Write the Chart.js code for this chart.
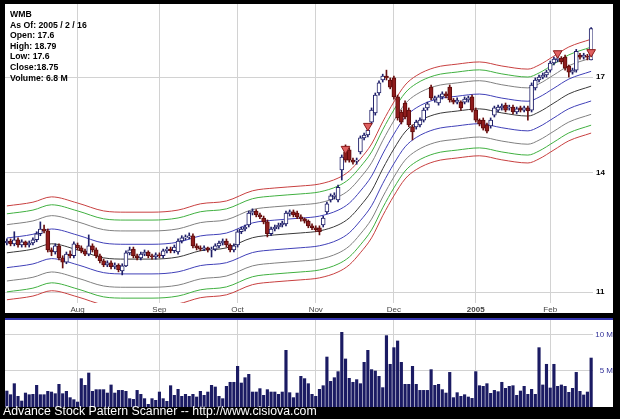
<!DOCTYPE html>
<html>
<head>
<meta charset="utf-8">
<script src="https://cdn.jsdelivr.net/npm/chart.js@4/dist/chart.umd.min.js"></script>
<style>
  html, body { margin: 0; padding: 0; background: #000; width: 620px; height: 419px; overflow: hidden; }
  #priceBox { position: absolute; left: 5px; top: 4px; width: 608px; height: 309px; background: #fff; }
  #volBox { position: absolute; left: 5px; top: 318px; width: 608px; height: 89px; background: #fff; border-top: 2px solid #3535b0; box-sizing: border-box; }
  #info { position: absolute; left: 10px; top: 9px; font: bold 8.7px/10.6px "Liberation Sans", Arial, sans-serif; color: #000; }
  #foot { position: absolute; left: 3px; top: 405px; font: 12.3px/13px "Liberation Sans", Arial, sans-serif; color: #fff; white-space: nowrap; }
  canvas { display: block; }
</style>
</head>
<body>
<div id="priceBox"><canvas id="price" width="608" height="309"></canvas></div>
<div id="volBox"><canvas id="vol" width="608" height="87"></canvas></div>
<div id="info">WMB<br>As Of: 2005 / 2 / 16<br>Open: 17.6<br>High: 18.79<br>Low: 17.6<br>Close:18.75<br>Volume: 6.8 M</div>
<div id="foot">Advance Stock Pattern Scanner -- http://www.cisiova.com</div>
<script>
// trading days 2004-07-06 .. 2005-02-16
const holidays = ['2004-09-06', '2004-11-25', '2004-12-24', '2005-01-17'];
const days = [];
for (let t = Date.UTC(2004, 6, 6); t <= Date.UTC(2005, 1, 16); t += 864e5) {
  const d = new Date(t);
  const s = d.toISOString().slice(0, 10);
  if (d.getUTCDay() % 6 !== 0 && !holidays.includes(s)) days.push(s);
}
const monthNames = ['Aug', 'Sep', 'Oct', 'Nov', 'Dec', '2005', 'Feb'];
const priceTicks = [11, 14, 17];
const volTicks = [5, 10];

const opens = [12.15,12.20,12.13,12.23,12.10,12.18,12.10,12.15,12.23,12.38,
  12.50,12.45,11.98,11.93,12.08,11.79,11.69,11.88,11.84,12.10,
  12.03,11.96,11.88,12.08,11.98,11.84,11.72,11.62,11.67,11.58,
  11.62,11.48,11.60,11.91,12.00,11.84,11.79,11.88,11.93,11.84,
  11.81,11.86,11.84,11.96,12.00,11.96,11.93,12.20,12.28,12.30,
  12.33,12.08,12.03,12.00,12.03,11.98,12.00,12.08,12.15,12.20,
  12.10,11.98,12.10,12.43,12.50,12.60,12.91,12.96,12.86,12.78,
  12.68,12.38,12.50,12.55,12.60,12.63,12.89,12.94,12.91,12.81,
  12.76,12.70,12.58,12.53,12.53,12.60,12.94,13.26,13.34,13.26,
  14.09,14.61,14.67,14.37,14.34,14.61,15.03,15.12,15.52,15.81,
  16.46,16.90,17.03,16.90,16.97,16.33,15.84,16.13,15.90,15.37,
  15.37,15.43,15.58,15.97,16.66,16.23,16.13,16.33,16.43,16.66,
  16.23,16.16,16.16,16.16,16.23,16.33,15.90,15.58,15.58,15.43,
  15.40,15.74,15.90,15.97,16.06,15.97,16.00,15.84,15.97,15.90,
  15.97,15.90,16.63,16.90,17.00,17.07,17.24,17.49,17.60,17.67,
  17.70,17.38,17.17,17.24,17.77,17.70,17.74,17.60];
const highs = [12.25,12.25,12.43,12.28,12.23,12.20,12.20,12.28,12.43,12.68,
  12.60,12.50,12.03,12.13,12.13,11.84,11.93,11.96,12.18,12.15,
  12.08,12.00,12.35,12.13,12.03,11.88,11.76,11.72,11.72,11.67,
  11.65,11.65,11.96,12.05,12.05,11.88,11.93,11.98,11.96,11.88,
  11.91,11.91,12.00,12.05,12.05,12.10,12.25,12.33,12.35,12.40,
  12.38,12.13,12.08,12.08,12.05,12.05,12.13,12.20,12.25,12.25,
  12.13,12.13,12.48,12.55,12.60,12.96,13.02,13.00,12.91,12.83,
  12.73,12.55,12.60,12.65,12.70,12.96,12.99,12.99,12.96,12.86,
  12.78,12.73,12.63,12.58,12.58,12.83,13.20,13.42,13.45,13.66,
  14.52,14.82,14.73,14.43,14.43,15.09,15.18,15.33,15.97,16.46,
  16.87,17.10,17.24,16.97,17.03,16.39,15.90,16.20,15.97,15.43,
  15.58,15.65,15.97,16.16,16.73,16.36,16.39,16.50,16.50,16.73,
  16.28,16.30,16.20,16.33,16.36,16.39,15.97,15.62,15.65,15.49,
  15.65,16.03,16.06,16.10,16.13,16.06,16.06,16.00,16.03,16.03,
  16.03,16.80,16.97,17.07,17.14,17.24,17.56,17.70,17.74,17.72,
  17.77,17.42,17.31,17.98,17.84,17.84,17.80,18.79];
const lows = [12.10,12.08,12.08,12.05,12.05,12.05,12.05,12.10,12.18,12.33,
  12.40,11.93,11.84,11.88,11.74,11.55,11.65,11.79,11.79,11.98,
  11.91,11.84,11.84,11.93,11.79,11.67,11.58,11.58,11.53,11.53,
  11.46,11.39,11.58,11.86,11.79,11.74,11.74,11.84,11.79,11.76,
  11.76,11.79,11.79,11.91,11.91,11.91,11.88,12.15,12.23,12.25,
  12.03,11.98,11.96,11.96,11.93,11.81,11.96,12.03,12.10,12.05,
  11.93,11.93,12.05,12.38,12.45,12.55,12.86,12.81,12.76,12.63,
  12.30,12.33,12.45,12.50,12.55,12.58,12.83,12.81,12.76,12.70,
  12.65,12.53,12.48,12.43,12.35,12.55,12.89,13.20,13.28,13.20,
  13.80,14.31,14.31,14.25,14.25,14.55,14.97,15.06,15.46,15.74,
  16.39,16.83,16.90,16.60,16.26,15.58,15.46,15.62,15.37,14.97,
  15.30,15.37,15.52,15.90,16.23,16.16,16.06,16.26,16.30,16.16,
  16.10,16.10,15.90,16.10,16.16,15.84,15.52,15.40,15.27,15.18,
  15.33,15.68,15.84,15.90,15.84,15.90,15.78,15.78,15.84,15.84,
  15.58,15.84,16.56,16.83,16.94,17.00,17.17,17.42,17.53,17.46,
  17.24,17.00,17.10,17.17,17.63,17.63,17.60,17.60];
const closes = [12.20,12.13,12.23,12.10,12.18,12.10,12.15,12.23,12.38,12.50,
  12.45,11.98,11.93,12.08,11.79,11.69,11.88,11.84,12.13,12.03,
  11.96,11.88,12.08,11.98,11.84,11.72,11.62,11.67,11.58,11.62,
  11.51,11.60,11.91,11.98,11.84,11.79,11.88,11.93,11.84,11.81,
  11.86,11.84,11.96,12.00,11.96,12.05,12.20,12.28,12.30,12.33,
  12.08,12.03,12.00,12.03,11.98,12.00,12.08,12.15,12.20,12.10,
  11.98,12.08,12.43,12.50,12.55,12.91,12.96,12.86,12.81,12.68,
  12.38,12.50,12.55,12.60,12.65,12.91,12.94,12.86,12.81,12.76,
  12.70,12.58,12.53,12.48,12.43,12.78,13.15,13.37,13.39,13.60,
  14.46,14.37,14.37,14.31,14.37,15.03,15.12,15.27,15.90,16.39,
  16.80,17.03,16.97,16.66,16.33,15.65,15.52,15.68,15.43,15.21,
  15.52,15.58,15.90,16.10,16.30,16.30,16.33,16.43,16.36,16.23,
  16.16,16.23,15.97,16.26,16.30,15.90,15.58,15.46,15.33,15.24,
  15.58,15.97,16.00,16.03,15.90,16.00,15.84,15.94,15.90,15.97,
  15.87,16.73,16.90,17.00,17.07,17.17,17.49,17.63,17.67,17.53,
  17.31,17.17,17.24,17.91,17.70,17.77,17.70,18.75];
// volume in millions
const volumes = [2.22,1.71,3.24,1.48,0.83,1.94,1.71,1.76,3.01,1.71,
  1.71,2.18,2.08,1.85,3.15,1.85,2.18,1.30,1.02,0.69,
  3.94,3.01,4.72,2.18,2.41,2.41,2.41,1.94,3.06,1.94,
  2.31,2.31,2.18,1.16,1.06,2.31,1.76,1.16,0.37,1.16,
  0.93,2.08,1.16,0.79,2.96,1.62,2.45,1.48,1.76,1.48,
  1.76,1.39,2.18,1.62,2.08,3.01,2.78,1.48,1.16,2.87,
  3.43,3.43,5.65,3.33,4.07,4.54,2.08,2.08,2.55,1.62,
  2.41,2.08,2.08,1.76,2.08,7.87,1.99,1.30,1.94,4.26,
  3.94,3.24,1.76,1.48,2.45,2.96,6.94,3.56,4.07,4.91,
  10.37,6.67,3.98,3.43,3.80,3.24,6.20,7.87,5.19,5.00,
  4.26,2.69,9.91,5.93,8.24,9.17,6.20,3.15,3.15,5.65,
  3.15,2.31,2.31,2.31,5.19,3.01,3.15,2.41,1.94,4.81,
  1.30,1.99,1.48,1.71,1.39,1.20,4.91,2.96,2.87,3.24,
  1.90,2.31,2.13,3.43,2.59,2.87,2.96,1.62,2.22,2.87,
  1.76,2.45,1.76,8.24,3.06,5.93,2.64,5.93,2.87,3.06,
  2.87,2.04,2.59,4.81,2.18,1.67,2.08,6.8];

// middle of the envelope, read at a few days; bands are log offsets from it
const bandIdx = [0,7,12,19,26,32,39,46,52,59,66,72,79,84,89,92,95,98,101,104,107,110,115,121,127,133,140,143,147,151,157];
const bandMid = [11.91,12.00,12.13,11.98,11.79,11.76,11.76,11.81,11.96,12.03,12.28,12.35,12.40,12.45,12.60,12.78,13.10,13.50,14.12,14.70,15.21,15.50,15.76,15.87,15.94,15.81,15.71,15.84,16.13,16.43,16.69];
const bandOffsets = [0.030, 0.057, 0.079, 0.095];
const bandColors = ['#4040b8', '#808080', '#40b040', '#c84040'];

const signalIdx = [91, 97, 148, 157];
const signalPrice = [14.70, 15.40, 17.84, 17.88];

const monthStarts = [];
days.forEach((d, i) => {
  if (i > 0 && d.slice(5, 7) !== days[i - 1].slice(5, 7)) monthStarts.push(i);
});

const up = closes.map((c, i) => c >= opens[i]);
const gridColor = '#d2d2d2';

function noPad(ax) {
  ax.paddingTop = 0;
  ax.paddingBottom = 0;
  ax.paddingLeft = 0;
  ax.paddingRight = 0;
}

function xAxis(showLabels) {
  return {
    type: 'category',
    offset: true,
    grid: { color: gridColor, drawTicks: false, offset: false },
    border: { display: false },
    afterBuildTicks: ax => { ax.ticks = monthStarts.map(v => ({ value: v })); },
    afterFit: ax => { ax.height = showLabels ? 10 : 0; noPad(ax); },
    ticks: {
      display: showLabels,
      autoSkip: false,
      maxRotation: 0,
      padding: 2,
      color: '#444',
      font: ctx => ({ family: 'Liberation Sans', size: 8, weight: ctx.index === 5 ? 'bold' : 'normal' }),
      callback: v => monthNames[monthStarts.indexOf(v)]
    }
  };
}

// outer → inner on top, centre, inner → outer below
const lines = [];
for (let k = bandOffsets.length - 1; k >= 0; k--) lines.push({ off: bandOffsets[k], col: bandColors[k] });
lines.push({ off: 0, col: '#3a3a3a' });
for (let k = 0; k < bandOffsets.length; k++) lines.push({ off: -bandOffsets[k], col: bandColors[k] });

const lineDatasets = lines.map(l => ({
  type: 'line',
  data: bandIdx.map((i, k) => ({ x: days[i], y: bandMid[k] * Math.exp(l.off) })),
  borderColor: l.col,
  borderWidth: 1,
  pointRadius: 0,
  tension: 0.4,
  cubicInterpolationMode: 'monotone',
  order: 5
}));

new Chart(document.getElementById('price'), {
  type: 'bar',
  data: {
    labels: days,
    datasets: [
      ...lineDatasets,
      {
        data: lows.map((l, i) => [l, highs[i]]),
        backgroundColor: up.map(u => u ? '#20206a' : '#6a1010'),
        barThickness: 1,
        grouped: false,
        order: 2
      },
      {
        data: opens.map((o, i) => [o, closes[i]]),
        backgroundColor: up.map(u => u ? '#ffffff' : '#8e1c1c'),
        borderColor: up.map(u => u ? '#20206a' : '#5e0c0c'),
        borderWidth: 1,
        borderSkipped: false,
        barThickness: 4,
        grouped: false,
        order: 1
      },
      {
        type: 'line',
        data: signalIdx.map((i, k) => ({ x: days[i], y: signalPrice[k] })),
        showLine: false,
        pointStyle: 'triangle',
        rotation: 180,
        pointRadius: 5,
        backgroundColor: '#e06060',
        borderColor: '#8a1a1a',
        borderWidth: 1,
        order: 0
      }
    ]
  },
  options: {
    responsive: false,
    animation: false,
    layout: { padding: 0, autoPadding: false },
    plugins: { legend: { display: false }, tooltip: { enabled: false } },
    scales: {
      x: xAxis(true),
      y: {
        type: 'logarithmic',
        position: 'right',
        min: 10.76,
        max: 19.71,
        grid: { color: gridColor, drawTicks: false },
        border: { display: false },
        afterBuildTicks: ax => { ax.ticks = priceTicks.map(v => ({ value: v })); },
        afterFit: ax => { ax.width = 20; noPad(ax); },
        ticks: { padding: 3, color: '#000', font: { family: 'Liberation Sans', size: 8, weight: 'bold' }, callback: v => String(v) }
      }
    }
  }
});

new Chart(document.getElementById('vol'), {
  type: 'bar',
  data: {
    labels: days,
    datasets: [{
      data: volumes,
      backgroundColor: '#1b1b63',
      barThickness: 2.5
    }]
  },
  options: {
    responsive: false,
    animation: false,
    layout: { padding: 0, autoPadding: false },
    plugins: { legend: { display: false }, tooltip: { enabled: false } },
    scales: {
      x: xAxis(false),
      y: {
        position: 'right',
        min: 0,
        max: 12.08,
        grid: { color: gridColor, drawTicks: false },
        border: { display: false },
        afterBuildTicks: ax => { ax.ticks = volTicks.map(v => ({ value: v })); },
        afterFit: ax => { ax.width = 20; noPad(ax); },
        ticks: { padding: 1, crossAlign: 'far', color: '#333399', font: { family: 'Liberation Sans', size: 8 }, callback: v => v + ' M' }
      }
    }
  }
});
</script>
</body>
</html>
